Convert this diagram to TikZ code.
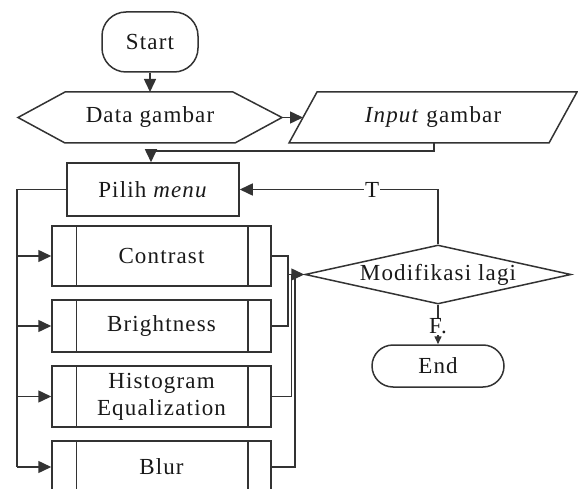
\documentclass[tikz,border=0pt]{standalone}
\usepackage{fontspec}
\setmainfont{Liberation Serif}[LetterSpace=5]
\usetikzlibrary{arrows.meta,shapes.geometric}
\tikzset{
  flow/.style={line width=1.5pt, draw=black!80},
  arr/.style={flow, -{Triangle[length=13pt,width=12pt]}},
  arrsmall/.style={flow, -{Triangle[length=8pt,width=7pt]}},
  lbl/.style={font=\fontsize{23}{27}\selectfont, text=black!90, inner sep=0pt, align=center},
  box/.style={lbl, flow, rectangle},
  term/.style={lbl, flow, rectangle},
  sub/.style={box, minimum width=219pt},
  dia/.style={lbl, flow, diamond, aspect=4.5, minimum width=266pt, minimum height=59pt},
  tag/.style={lbl, fill=white, inner sep=1pt}
}
\begin{document}
\begin{tikzpicture}[x=1pt, y=-1pt]
\useasboundingbox (0,0) rectangle (578,489);
\begin{scope}
\clip (0,0) rectangle (578,489);

% terminator
\node[term, rounded corners=24pt, minimum width=96pt, minimum height=60pt] (start) at (150,42) {Start};

% display shape (hexagon)
\node[lbl] (data) at (150,117.5) {Data gambar};
\coordinate (dataT) at (150,92);
\coordinate (dataL) at (18,117.5);
\coordinate (dataR) at (282,117.5);
\draw[flow] (dataL) -- (65,92) -- (233,92) -- (dataR) -- (235,143) -- (65,143) -- cycle;

% input (parallelogram)
\node[lbl] (input) at (433,117.5) {\textit{Input} gambar};
\coordinate (inL) at (303,117.5);
\coordinate (inB) at (434,143);
\draw[flow] (289,143) -- (317,92) -- (577,92) -- (549,143) -- cycle;

% menu choice
\node[box, minimum width=172pt, minimum height=53pt] (pilih) at (153,189.5) {Pilih \textit{menu}};
\coordinate (down) at (151,151);

% sub-processes
\node[sub, minimum height=60pt] (con) at (161.5,256) {Contrast};
\node[sub, minimum height=52pt] (bri) at (161.5,326) {Brightness};
\node[sub, minimum height=61pt] (his) at (161.5,396.5) {Histogram\\Equalization};
\node[sub, minimum height=52pt] (blu) at (161.5,467) {Blur};
\foreach \n in {con,bri,his,blu}
  \draw[flow] ([xshift=25pt]\n.north west) -- ([xshift=25pt]\n.south west)
              ([xshift=-24pt]\n.north east) -- ([xshift=-24pt]\n.south east);

% decision and end
\node[dia] (mod) at (438,274.5) {Modifikasi lagi};
\node[term, rounded corners=21pt, minimum width=132pt, minimum height=42pt] (end) at (438,366) {End};

% connectors
\draw[arr] (start.south) -- (dataT);
\draw[arr] (dataR) -- (inL);
\draw[flow] (inB) -- (inB |- down) -- (down);
\draw[arr] (down) -- (down |- pilih.north);

\coordinate (trunk) at (17,189.5);
\draw[flow] (pilih.west) -- (trunk) -- (trunk |- blu.west);
\foreach \n in {con,bri,his,blu}
  \draw[arr] (trunk |- \n.west) -- (\n.west);

\coordinate (j1) at (288,274.5);
\coordinate (j2) at (291.5,274.5);
\coordinate (j3) at (295,274.5);
\draw[flow] (con.east) -| (j1);
\draw[flow] (bri.east) -| (j1);
\draw[flow] (his.east) -| (j2);
\draw[flow] (blu.east) -| (j3);
\draw[arr] (j1) -- (mod.west);

\draw[arr] (mod.north) |- (pilih.east) node[tag, pos=0.666] {T};
\draw[arrsmall] (mod.south) -- (end.north) node[tag, pos=0.55] {F.};
\end{scope}
\end{tikzpicture}
\end{document}
